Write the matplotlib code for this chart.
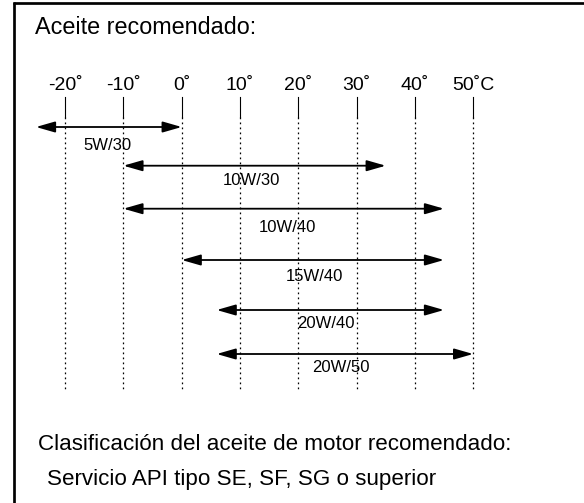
import matplotlib
matplotlib.use("Agg")
import matplotlib.pyplot as plt

plt.rcParams['font.family'] = ['Liberation Sans', 'DejaVu Sans']

# ---- data ----
temps = [-20, -10, 0, 10, 20, 30, 40, 50]
tick_labels = ["-20˚", "-10˚", "0˚", "10˚", "20˚", "30˚", "40˚", "50˚C"]
oils = ["5W/30", "10W/30", "10W/40", "15W/40", "20W/40", "20W/50"]
t_low = [-25, -10, -10, 0, 6, 6]
t_high = [0, 35, 45, 45, 45, 50]

title = "Aceite recomendado:"
footer1 = "Clasificación del aceite de motor recomendado:"
footer2 = "Servicio API tipo SE, SF, SG o superior"

# ---- layout (pixel rows, label x in temperature units) ----
W, H = 584, 503
row_y = [127, 165.7, 208.7, 260, 310, 354]
label_y = [145, 180.7, 227.7, 276.7, 324, 368]
label_x = [-12.8, 12.0, 18.2, 22.7, 24.8, 27.3]

px_per_deg = 5.829
x0_px = 181.7
xmin = -x0_px / px_per_deg
xmax = (W - x0_px) / px_per_deg

fig = plt.figure(figsize=(W / 100, H / 100), dpi=100)
ax = fig.add_axes([0, 0, 1, 1])
ax.set_xlim(xmin, xmax)
ax.set_ylim(H, 0)
ax.axis('off')

# overlay in pixel coords for the frame
fr = fig.add_axes([0, 0, 1, 1], zorder=-1)
fr.set_xlim(0, W)
fr.set_ylim(H, 0)
fr.axis('off')
fr.plot([14, 14], [2, H], color='black', lw=1.95, solid_capstyle='butt')
fr.plot([13, W], [3, 3], color='black', lw=1.95, solid_capstyle='butt')

# title
ax.text((35 - x0_px) / px_per_deg, 27, title, fontsize=16.8, ha='left', va='center')

# temperature ticks and guide lines
for t, lab in zip(temps, tick_labels):
    ax.text(t, 85, lab, fontsize=14, ha='center', va='center')
    ax.plot([t, t], [97, 117], color='black', lw=0.8)
    ax.plot([t, t], [117, 389], color='black', lw=0.9, linestyle=(0, (1.4, 2.6)))

# double arrows
for lo, hi, y, lx, ly, name in zip(t_low, t_high, row_y, label_x, label_y, oils):
    ax.annotate('', xy=(hi, y), xytext=(lo, y),
                arrowprops=dict(arrowstyle='<|-|>,head_length=1.15,head_width=0.33',
                                mutation_scale=10, color='black', lw=1.3,
                                shrinkA=0, shrinkB=0))
    ax.text(lx, ly, name, fontsize=12, ha='center', va='center')

# footer
ax.text((38 - x0_px) / px_per_deg, 445, footer1, fontsize=16.1, ha='left', va='center')
ax.text((47 - x0_px) / px_per_deg, 480, footer2, fontsize=16.1, ha='left', va='center')

fig.savefig('out.png', dpi=100)
